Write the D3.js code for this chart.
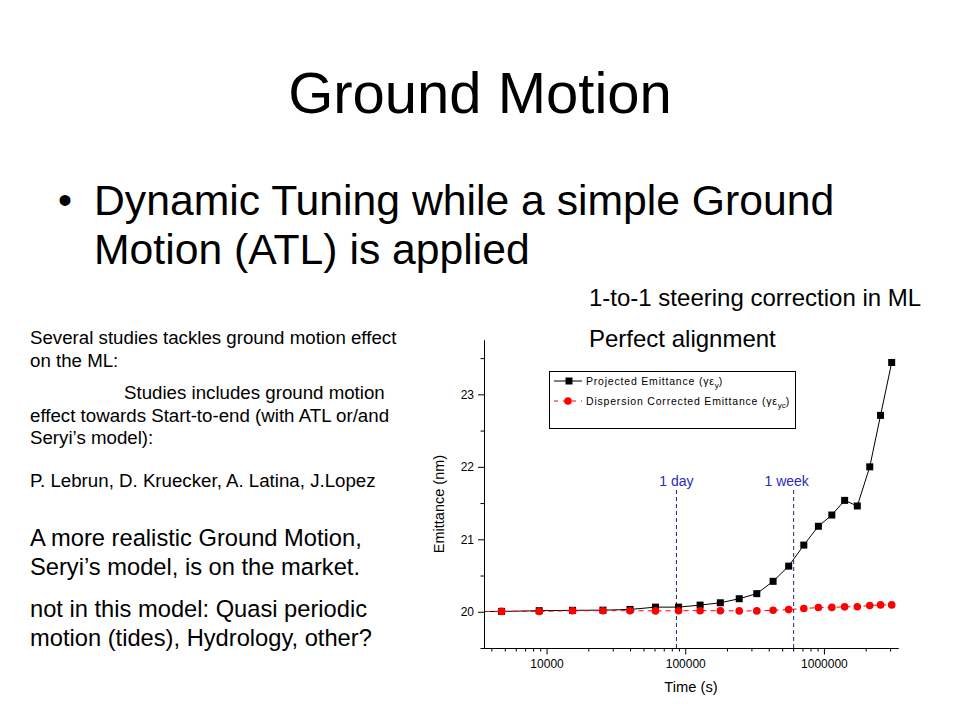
<!DOCTYPE html>
<html>
<head>
<meta charset="utf-8">
<script src="https://cdn.jsdelivr.net/npm/d3@7"></script>
<style>
  body { margin: 0; background: #fff; }
  svg text { font-family: "Liberation Sans", Arial, sans-serif; }
</style>
</head>
<body>
<svg id="slide" width="960" height="720"></svg>
<script>
// time points (s); the first one lies left of the axis and is clipped
const timeS = [2000, 4740, 8850, 15400, 25500, 40000, 61000, 89500, 128000, 179000, 245000,
  328000, 430000, 557000, 716000, 912000, 1140000, 1410000, 1740000, 2140000, 2560000, 3080000];
const projected = [20.0, 20.005, 20.015, 20.02, 20.022, 20.032, 20.064, 20.064, 20.092, 20.124, 20.18,
  20.25, 20.42, 20.63, 20.92, 21.18, 21.335, 21.537, 21.46, 22.0, 22.71, 23.44];
const dispCorrected = [20.0, 20.005, 20.005, 20.015, 20.015, 20.015, 20.012, 20.015, 20.015, 20.015, 20.012,
  20.012, 20.02, 20.03, 20.045, 20.058, 20.06, 20.068, 20.07, 20.085, 20.095, 20.095];
const xMajor = [10000, 100000, 1000000];
const yMajor = [20, 21, 22, 23];
const yMinor = [19.5, 20.5, 21.5, 22.5, 23.5];
const markers = [{ t: 86400, label: "1 day", dx: 0 }, { t: 604800, label: "1 week", dx: -7 }];

const svg = d3.select("#slide");
svg.append("rect").attr("width", 960).attr("height", 720).attr("fill", "#fff");

// slide text
svg.append("text").attr("x", 480).attr("y", 113).attr("text-anchor", "middle")
  .attr("font-size", 58).text("Ground Motion");
svg.append("text").attr("x", 58).attr("y", 214).attr("font-size", 40).text("•");
svg.append("text").attr("x", 94).attr("y", 215).attr("font-size", 42.7).text("Dynamic Tuning while a simple Ground");
svg.append("text").attr("x", 94).attr("y", 264).attr("font-size", 42.7).text("Motion (ATL) is applied");

svg.append("text").attr("x", 589).attr("y", 306).attr("font-size", 24).text("1-to-1 steering correction in ML");
svg.append("text").attr("x", 589).attr("y", 347).attr("font-size", 24).text("Perfect alignment");

const small = [
  [30, 344, "Several studies tackles ground motion effect"],
  [30, 367, "on the ML:"],
  [124, 399, "Studies includes ground motion"],
  [30, 422, "effect towards Start-to-end (with ATL or/and"],
  [30, 444, "Seryi’s model):"],
  [30, 487, "P. Lebrun, D. Kruecker, A. Latina, J.Lopez"]
];
small.forEach(d => svg.append("text").attr("x", d[0]).attr("y", d[1])
  .attr("font-size", 18.7).text(d[2]));

const big = [
  [30, 546, "A more realistic Ground Motion,"],
  [30, 575, "Seryi’s model, is on the market."],
  [30, 617, "not in this model: Quasi periodic"],
  [30, 646, "motion (tides), Hydrology, other?"]
];
big.forEach(d => svg.append("text").attr("x", d[0]).attr("y", d[1])
  .attr("font-size", 23.7).text(d[2]));

// chart
const x = d3.scaleLog().domain([3540, 3.42e6]).range([484, 898]);
const y = d3.scaleLinear().domain([19.5, 23.75]).range([648, 340]);

svg.append("clipPath").attr("id", "plot").append("rect")
  .attr("x", 484).attr("y", 340).attr("width", 414).attr("height", 308);

const xMinor = [];
[1000, 10000, 100000, 1000000].forEach(dec => {
  for (let k = 2; k <= 9; k++) {
    const v = dec * k;
    if (v >= 3540 && v <= 3.42e6) xMinor.push(v);
  }
});

const gx = svg.append("g").attr("transform", "translate(0,648)");
gx.call(d3.axisBottom(x).tickValues(xMinor).tickSize(3.5).tickSizeOuter(0).tickFormat(""));
gx.call(g => g.append("g").call(d3.axisBottom(x).tickValues(xMajor).tickSize(6.5).tickSizeOuter(0)
  .tickPadding(5).tickFormat(d3.format("d"))));
gx.selectAll("path.domain").attr("stroke", "#000");

const gy = svg.append("g").attr("transform", "translate(484,0)");
gy.call(d3.axisLeft(y).tickValues(yMinor).tickSize(3.5).tickSizeOuter(0).tickFormat(""));
gy.call(g => g.append("g").call(d3.axisLeft(y).tickValues(yMajor).tickSize(6).tickSizeOuter(0)
  .tickPadding(4).tickFormat(d3.format("d"))));

svg.selectAll(".tick text").attr("font-size", 12).attr("fill", "#000")
  .attr("font-family", "Liberation Sans, Arial, sans-serif");
svg.selectAll(".tick line").attr("stroke", "#000");

svg.append("text").attr("transform", "translate(444,504) rotate(-90)")
  .attr("text-anchor", "middle").attr("font-size", 14.5).text("Emittance (nm)");
svg.append("text").attr("x", 691).attr("y", 692)
  .attr("text-anchor", "middle").attr("font-size", 14.7).text("Time (s)");

// 1 day / 1 week markers
markers.forEach(m => {
  svg.append("line").attr("x1", x(m.t)).attr("x2", x(m.t)).attr("y1", 490).attr("y2", 648)
    .attr("stroke", "#20208c").attr("stroke-width", 1).attr("stroke-dasharray", "4,3");
  svg.append("text").attr("x", x(m.t) + m.dx).attr("y", 485.5).attr("text-anchor", "middle")
    .attr("font-size", 14).attr("fill", "#2b2bbd").text(m.label);
});

const plot = svg.append("g").attr("clip-path", "url(#plot)");
const idx = d3.range(timeS.length);

plot.append("path")
  .attr("d", d3.line().x(i => x(timeS[i])).y(i => y(projected[i]))(idx))
  .attr("fill", "none").attr("stroke", "#000").attr("stroke-width", 1);
plot.selectAll("rect.sq").data(idx).join("rect").attr("class", "sq")
  .attr("x", i => x(timeS[i]) - 3.5).attr("y", i => y(projected[i]) - 3.5)
  .attr("width", 7).attr("height", 7).attr("fill", "#000");

plot.append("path")
  .attr("d", d3.line().x(i => x(timeS[i])).y(i => y(dispCorrected[i]))(idx))
  .attr("fill", "none").attr("stroke", "#ff0000").attr("stroke-width", 1)
  .attr("stroke-dasharray", "5,4");
plot.selectAll("circle.dot").data(idx).join("circle").attr("class", "dot")
  .attr("cx", i => x(timeS[i])).attr("cy", i => y(dispCorrected[i]))
  .attr("r", 3.8).attr("fill", "#ff0000");

// legend
const lg = svg.append("g");
lg.append("rect").attr("x", 549.5).attr("y", 371.5).attr("width", 246).attr("height", 57)
  .attr("fill", "#fff").attr("stroke", "#000").attr("stroke-width", 1);
lg.append("line").attr("x1", 554).attr("x2", 582).attr("y1", 381).attr("y2", 381)
  .attr("stroke", "#000");
lg.append("rect").attr("x", 565.5).attr("y", 377.5).attr("width", 7).attr("height", 7).attr("fill", "#000");
lg.append("line").attr("x1", 554).attr("x2", 582).attr("y1", 401).attr("y2", 401)
  .attr("stroke", "#ff0000").attr("stroke-dasharray", "4,5");
lg.append("circle").attr("cx", 568).attr("cy", 401).attr("r", 3.8).attr("fill", "#ff0000");

const legendText = [
  [384.8, "Projected Emittance (γε", "y"],
  [404.8, "Dispersion Corrected Emittance (γε", "yc"]
];
legendText.forEach(d => {
  const t = lg.append("text").attr("x", 586).attr("y", d[0])
    .attr("font-size", 10.5).attr("letter-spacing", 0.8);
  t.append("tspan").text(d[1]);
  t.append("tspan").attr("dy", 3).attr("font-size", 8).attr("letter-spacing", 0).text(d[2]);
  t.append("tspan").attr("dy", -3).text(")");
});
</script>
</body>
</html>
